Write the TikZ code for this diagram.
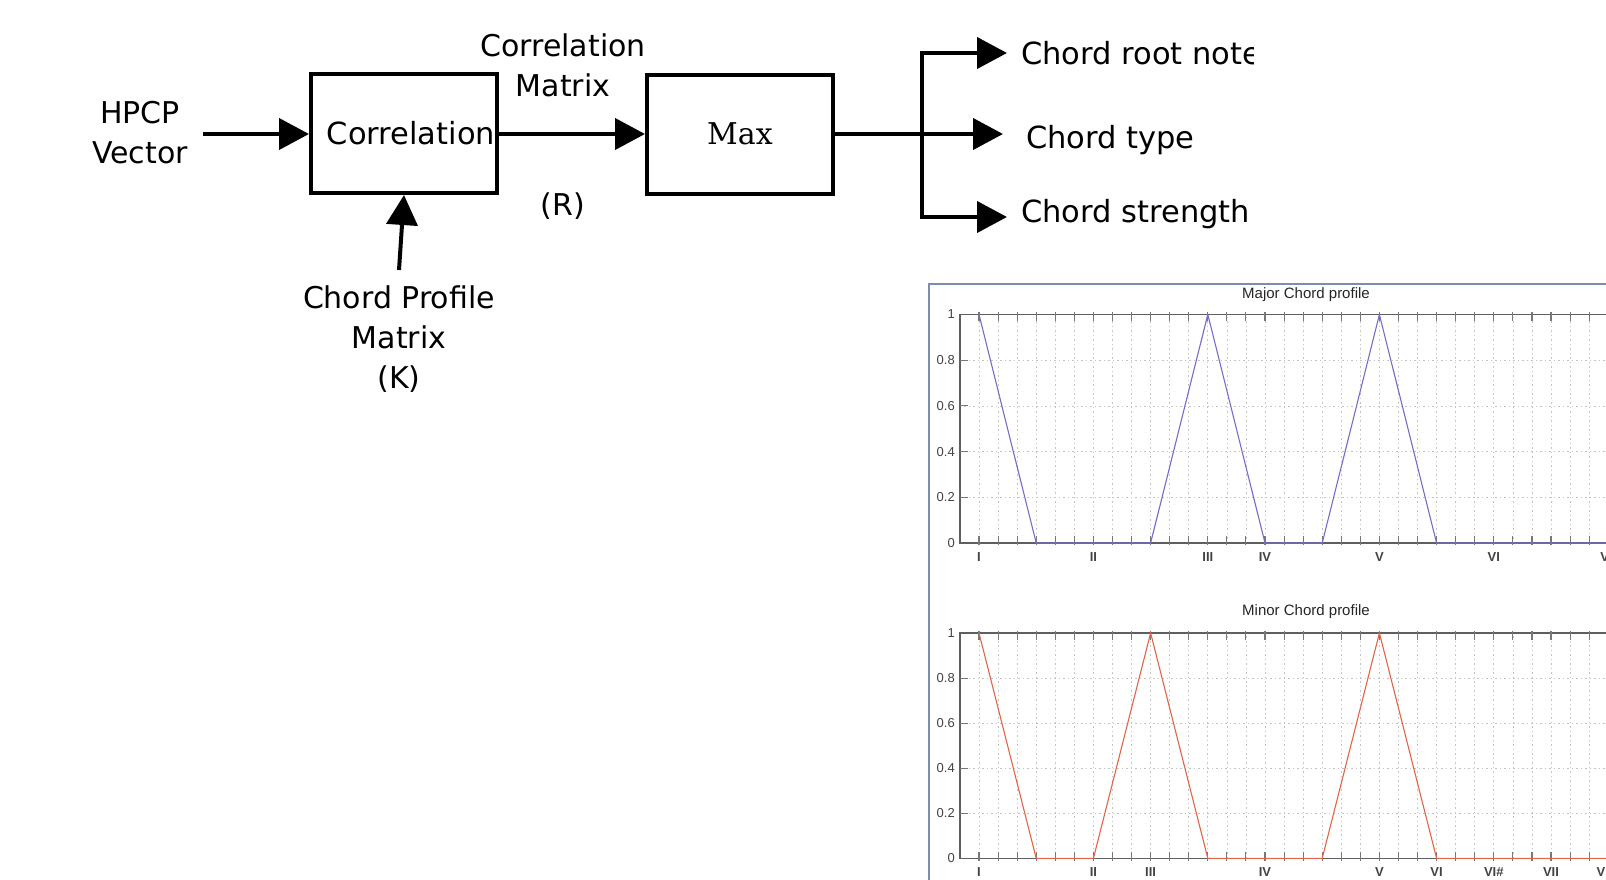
\documentclass[tikz,border=0pt]{standalone}
\usepackage{fontspec}
\setmainfont{DejaVu Sans}
\newfontfamily\maxserif{DejaVu Serif}
\newfontfamily\plotfont{Liberation Sans}
\usetikzlibrary{arrows.meta}
\definecolor{framecol}{RGB}{125,140,178}
\definecolor{majcol}{RGB}{115,110,200}
\definecolor{mincol}{RGB}{230,100,70}
\definecolor{axcol}{RGB}{95,95,95}
\definecolor{gridcol}{RGB}{195,195,195}
\begin{document}
\begin{tikzpicture}[x=1pt,y=-1pt,
  blk/.style={draw=black, line width=4pt, minimum width=186pt, minimum height=119pt, inner sep=0pt, fill=white},
  arr/.style={line width=4pt, -{Triangle[length=30pt,width=31pt]}},
  wire/.style={line width=4pt},
  lbl/.style={font=\fontsize{30}{40}\selectfont, align=center, inner sep=0pt},
  outlbl/.style={font=\fontsize{30.5}{40}\selectfont, anchor=west, inner sep=0pt},
  gridl/.style={draw=gridcol, line width=0.7pt, dash pattern=on 1.5pt off 3pt},
  axl/.style={draw=axcol, line width=1.5pt},
  tickl/.style={draw=axcol!85, line width=1.1pt},
  ylab/.style={font=\plotfont\fontsize{13}{15}\selectfont, text=axcol!70!black, anchor=east, inner sep=0pt, xshift=-5pt},
  xlab/.style={font=\plotfont\bfseries\fontsize{13}{15}\selectfont, text=axcol!70!black, inner sep=0pt, yshift=-14pt},
  ttl/.style={font=\plotfont\fontsize{15}{17}\selectfont, text=black!85, inner sep=0pt}]
\useasboundingbox[fill=white] (0,0) rectangle (1606,879);

% ---------------- block diagram ----------------
\node[blk] (corr) at (404,133.5) {\fontsize{30.5}{40}\selectfont\hspace*{14pt}Correlation};
\node[blk] (max) at (740,134) {\maxserif\fontsize{30}{40}\selectfont Max};
\node[lbl] (hpcp) at (140,133) {HPCP\\Vector};
\node[lbl] (cmat) at (563,65) {Correlation\\Matrix};
\node[lbl] (rlab) at (563,206) {(R)};
\node[lbl] (kmat) at (399,339) {Chord Profile\\Matrix\\(K)};

\coordinate (hin) at (203,134);
\coordinate (kin) at (399,270);
\draw[arr] (hin) -- (corr.west |- hin);
\draw[arr] (corr.east |- hin) -- (max.west |- hin);
\draw[arr] (kin) -- (corr.south);

\begin{scope}
  \clip (990,15) rectangle (1253,95);
  \node[outlbl] (root) at (1021,53) {Chord root note};
\end{scope}
\node[outlbl] (ctype) at (1026,140) {Chord type};
\node[outlbl] (cstr) at (1021,214) {Chord strength};

\coordinate (j) at (922,134);
\coordinate (jt) at (922,53);
\coordinate (jb) at (922,217);
\draw[wire] (jt) -- (jb);
\draw[arr] (max.east |- j) -- ([xshift=-23pt]ctype.west |- j);
\draw[arr] ([xshift=-2pt]jt) -- ([xshift=-14pt]root.west |- jt);
\draw[arr] ([xshift=-2pt]jb) -- ([xshift=-14pt]cstr.west |- jb);

% ---------------- plot panel ----------------
\draw[draw=framecol, line width=2pt] (929,284) rectangle (1640,920);

\node[ttl] (majt) at (1306,295) {Major Chord profile};
\node[ttl] (mint) at (1306,612) {Minor Chord profile};

% major profile
\begin{scope}[shift={(979,543)}, x=57.2pt, y=228.5pt]
  \foreach \k in {0,...,36} {\draw[gridl] (\k/3,0) -- (\k/3,1);}
  \foreach \v in {0.2,0.4,0.6,0.8} {\draw[gridl] (-1/3,\v) -- (12,\v);}
  \draw[axl] (12,1) -- (-1/3,1) -- (-1/3,0) -- (12,0);
  \foreach \k in {0,...,36} {
    \draw[tickl] (\k/3,-0.01) -- ++(0pt,9pt);
    \draw[tickl] (\k/3,1.01) -- ++(0pt,-9pt);}
  \foreach \v in {0.2,0.4,0.6,0.8} {\draw[tickl] (-1/3,\v) -- ++(8pt,0pt);}
  \foreach \v/\t [count=\i] in {1/1,0.8/0.8,0.6/0.6,0.4/0.4,0.2/0.2,0/0}
    {\node[ylab] (may\i) at (-1/3,\v) {\t};}
  \foreach \s/\t [count=\i] in {0/I,2/II,4/III,5/IV,7/V,9/VI,11/VII}
    {\node[xlab] (max\i) at (\s,0) {\t};}
  \draw[majcol, line width=1.1pt] (0,1) -- (1,0) -- (3,0) -- (4,1) -- (5,0) -- (6,0) -- (7,1) -- (8,0) -- (12,0);
\end{scope}

% minor profile
\begin{scope}[shift={(979,858.3)}, x=57.2pt, y=225.3pt]
  \foreach \k in {0,...,36} {\draw[gridl] (\k/3,0) -- (\k/3,1);}
  \foreach \v in {0.2,0.4,0.6,0.8} {\draw[gridl] (-1/3,\v) -- (12,\v);}
  \draw[axl] (12,1) -- (-1/3,1) -- (-1/3,0) -- (12,0);
  \foreach \k in {0,...,36} {
    \draw[tickl] (\k/3,-0.01) -- ++(0pt,9pt);
    \draw[tickl] (\k/3,1.01) -- ++(0pt,-9pt);}
  \foreach \v in {0.2,0.4,0.6,0.8} {\draw[tickl] (-1/3,\v) -- ++(8pt,0pt);}
  \foreach \v/\t [count=\i] in {1/1,0.8/0.8,0.6/0.6,0.4/0.4,0.2/0.2,0/0}
    {\node[ylab] (miy\i) at (-1/3,\v) {\t};}
  \foreach \s/\t [count=\i] in {0/I,2/II,3/III,5/IV,7/V,8/VI,9/VI\#,10/VII,11/VII\#}
    {\node[xlab] (mix\i) at (\s,0) {\t};}
  \draw[mincol, line width=1.1pt] (0,1) -- (1,0) -- (2,0) -- (3,1) -- (4,0) -- (6,0) -- (7,1) -- (8,0) -- (12,0);
\end{scope}
\end{tikzpicture}
\end{document}
